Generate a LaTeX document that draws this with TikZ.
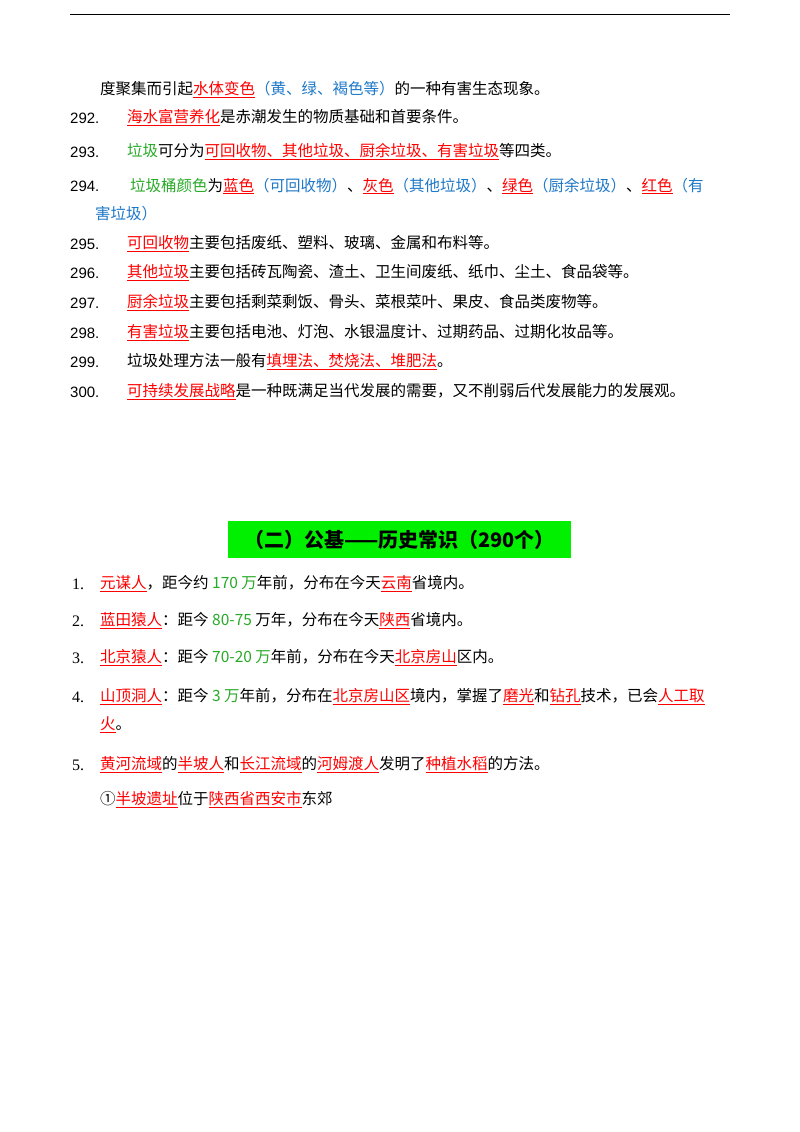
\documentclass[tikz,border=0pt]{standalone}
\usepackage{fontspec}
\setmainfont{Noto Sans CJK SC}
\newfontfamily\numf{Liberation Serif}
\newfontfamily\sansnum{Liberation Sans}
\definecolor{myred}{RGB}{255,0,0}
\definecolor{mygreen}{RGB}{40,170,40}
\definecolor{myblue}{RGB}{30,120,200}
\definecolor{boxgreen}{RGB}{0,240,0}
\newcommand{\Rd}[1]{\textcolor{myred}{\underline{#1}}}
\newcommand{\Gn}[1]{\textcolor{mygreen}{#1}}
\newcommand{\Bl}[1]{\textcolor{myblue}{#1}}
\begin{document}
\begin{tikzpicture}[x=1pt,y=-1pt,
  txt/.style={anchor=west,inner sep=0pt,font=\fontsize{15.5}{18}\selectfont},
  num/.style={anchor=west,inner sep=0pt,font=\fontsize{15}{18}\sansnum},
  hnum/.style={anchor=west,inner sep=0pt,font=\fontsize{16}{18}\numf}]
\useasboundingbox (0,0) rectangle (800,1132);
\fill[white] (0,0) rectangle (800,1132);
\draw[line width=1pt] (70,15) -- (730,15);
\node[txt] (l0) at (100,90) {度聚集而引起\Rd{水体变色}\Bl{（黄、绿、褐色等）}的一种有害生态现象。};
\node[num] (n292) at (70,118) {292.};
\node[txt] (l292) at (127,118) {\Rd{海水富营养化}是赤潮发生的物质基础和首要条件。};
\node[num] (n293) at (70,152) {293.};
\node[txt] (l293) at (127,152) {\Gn{垃圾}可分为\Rd{可回收物、其他垃圾、厨余垃圾、有害垃圾}等四类。};
\node[num] (n294) at (70,186) {294.};
\node[txt] (l294) at (130,186) {\Gn{垃圾桶颜色}为\Rd{蓝色}\Bl{（可回收物）}、\Rd{灰色}\Bl{（其他垃圾）}、\Rd{绿色}\Bl{（厨余垃圾）}、\Rd{红色}\Bl{（有}};
\node[txt] (l294b) at (95,214) {\Bl{害垃圾）}};
\node[num] (n295) at (70,244) {295.};
\node[txt] (l295) at (127,244) {\Rd{可回收物}主要包括废纸、塑料、玻璃、金属和布料等。};
\node[num] (n296) at (70,273) {296.};
\node[txt] (l296) at (127,273) {\Rd{其他垃圾}主要包括砖瓦陶瓷、渣土、卫生间废纸、纸巾、尘土、食品袋等。};
\node[num] (n297) at (70,303) {297.};
\node[txt] (l297) at (127,303) {\Rd{厨余垃圾}主要包括剩菜剩饭、骨头、菜根菜叶、果皮、食品类废物等。};
\node[num] (n298) at (70,333) {298.};
\node[txt] (l298) at (127,333) {\Rd{有害垃圾}主要包括电池、灯泡、水银温度计、过期药品、过期化妆品等。};
\node[num] (n299) at (70,362) {299.};
\node[txt] (l299) at (127,362) {垃圾处理方法一般有\Rd{填埋法、焚烧法、堆肥法}。};
\node[num] (n300) at (70,392) {300.};
\node[txt] (l300) at (127,392) {\Rd{可持续发展战略}是一种既满足当代发展的需要，又不削弱后代发展能力的发展观。};
\node[fill=boxgreen,minimum width=343pt,minimum height=37pt,inner sep=0pt,font=\fontsize{20}{22}\selectfont\bfseries] (title) at (399.5,539.5) {（二）公基——历史常识（290个）};
\node[hnum] (h1) at (72,584) {1.};
\node[txt] (t1) at (100,584) {\Rd{元谋人}，距今约 \Gn{170 万}年前，分布在今天\Rd{云南}省境内。};
\node[hnum] (h2) at (72,621) {2.};
\node[txt] (t2) at (100,621) {\Rd{蓝田猿人}：距今 \Gn{80-75} 万年，分布在今天\Rd{陕西}省境内。};
\node[hnum] (h3) at (72,658) {3.};
\node[txt] (t3) at (100,658) {\Rd{北京猿人}：距今 \Gn{70-20 万}年前，分布在今天\Rd{北京房山}区内。};
\node[hnum] (h4) at (72,697) {4.};
\node[txt] (t4) at (100,697) {\Rd{山顶洞人}：距今 \Gn{3 万}年前，分布在\Rd{北京房山区}境内，掌握了\Rd{磨光}和\Rd{钻孔}技术，已会\Rd{人工取}};
\node[txt] (t4b) at (100,725) {\Rd{火}。};
\node[hnum] (h5) at (72,765) {5.};
\node[txt] (t5) at (100,765) {\Rd{黄河流域}的\Rd{半坡人}和\Rd{长江流域}的\Rd{河姆渡人}发明了\Rd{种植水稻}的方法。};
\node[txt] (t6) at (100,800) {①\Rd{半坡遗址}位于\Rd{陕西省西安市}东郊};
\end{tikzpicture}
\end{document}
